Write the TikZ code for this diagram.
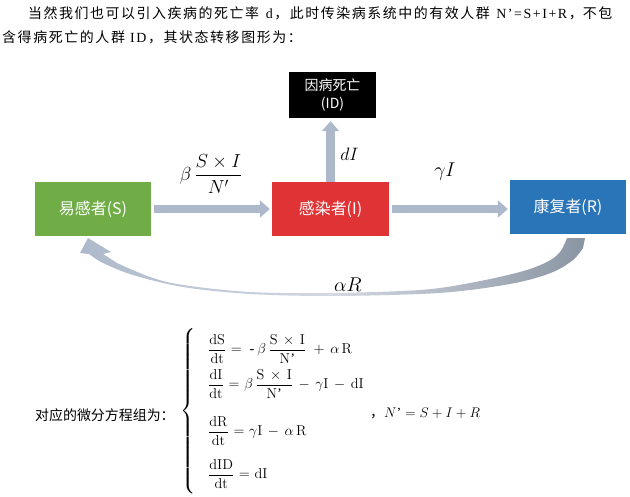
\RequirePackage{fix-cm}
\documentclass[tikz,border=0pt]{standalone}
\usepackage{amsmath}
\usepackage[no-math]{fontspec}
\setmainfont{Liberation Serif}
\newfontfamily\cjk{Noto Sans CJK SC}
\usetikzlibrary{arrows.meta,calc}
\definecolor{gS}{HTML}{70AD47}
\definecolor{rI}{HTML}{E03336}
\definecolor{bR}{HTML}{2A75B8}
\definecolor{arr}{HTML}{ADB9CA}
\definecolor{arrd}{HTML}{8A95A3}
\definecolor{arrm}{HTML}{D3D9E2}
\tikzset{
  box/.style={draw=none, inner sep=0pt, text=white, font=\cjk\fontsize{16}{19}\selectfont},
  blk/.style={draw=arr, line width=8.5bp, -{Triangle[length=10bp,width=17bp]}},
  toptxt/.style={anchor=base west, inner sep=0pt, font=\fontsize{14}{16}\selectfont},
  mlab/.style={inner sep=0pt, font=\fontsize{20}{24}\selectfont},
  eqrow/.style={anchor=west, inner sep=0pt, font=\fontsize{14.4}{17}\selectfont}
}
\newskip\lsgap
\def\ls#1{\lsA#1\relax}
\def\lsA#1{\ifx\relax#1\else#1\hskip\lsgap\expandafter\lsA\fi}
\newcommand{\eqsp}{\medmuskip=7mu plus 2mu minus 2mu\thickmuskip=6mu plus 2mu}
\begin{document}
\begin{tikzpicture}[x=1bp,y=-1bp]
\useasboundingbox (0,0) rectangle (630,497);
% top paragraph
\node[toptxt] (t1) at (28,18.5) {\lsgap=0pt plus 1fil\makebox[584bp][s]{{\cjk\ls{当然我们也可以引入疾病的死亡率}}\hskip3.5bp plus 1fil d\hskip\lsgap{\cjk\ls{，此时传染病系统中的有效人群}}\hskip3.5bp plus 1fil\ls{N’=S+I+R}{\cjk ，不\hskip\lsgap 包}}};
\node[toptxt] (t2) at (2,42.5) {\lsgap=1.6bp{\cjk\ls{含得病死亡的人群}}\hskip3.5bp I\hskip\lsgap D\hskip\lsgap{\cjk\ls{，其状态转移图形为：}}};
% boxes
\node[box, fill=gS, minimum width=116bp, minimum height=54bp] (S) at (93,209) {易感者(S)};
\node[box, fill=rI, minimum width=117bp, minimum height=54bp] (I) at (330.5,209) {感染者(I)};
\node[box, fill=bR, minimum width=116bp, minimum height=54bp] (R) at (568,207) {康复者(R)};
\node[box, fill=black, minimum width=87bp, minimum height=46bp, align=center,
      font=\cjk\fontsize{14}{18}\selectfont] (ID) at (332.5,95) {因病死亡\\(ID)};
% straight arrows
\draw[blk, shorten <=3bp, shorten >=2bp] (S.east) -- (I.west);
\draw[blk, shorten <=3bp, shorten >=2bp] (I.east) -- (I.east -| R.west);
\draw[blk, shorten >=3bp] (I.north) -- (I.north |- ID.south);
% curved return arrow R -> S
\shade[left color=arr, right color=arrd, middle color=arrm]
  (88,238) -- (111,252) -- (103,254)
  -- plot[smooth, tension=0.55] coordinates {(117,263) (150,277) (183,285) (250,292) (330,293) (420,290) (470,283) (520,272) (547,262) (560,252) (567,238)}
  -- (585,238)
  -- plot[smooth, tension=0.55] coordinates {(583,248) (573,260) (553,272) (520,282) (470,290) (420,294) (330,296) (250,294) (183,287) (133,275) (103,263) (89,254)}
  -- (80,253) -- cycle;
% labels
\node[mlab, font=\fontsize{19}{23}\selectfont] (lbeta) at (211,174) {$\beta\,\displaystyle\frac{S\times I}{N'}$};
\node[mlab] (lgamma) at (445,172) {$\gamma I$};
\node[mlab, font=\fontsize{18}{22}\selectfont] (ld) at (349.5,154) {$dI$};
\node[mlab] (lalpha) at (348,285) {$\alpha R$};
% equations
\node[toptxt] (eqlab) at (35,420) {\cjk 对应的微分方程组为：};
\node[inner sep=0pt, font=\fontsize{16}{19}\selectfont] (brace) at (189,412) {$\left\{\vrule height 80bp depth 80bp width 0bp\right.$};
\node[eqrow] (e1) at (208,349) {$\eqsp\displaystyle\frac{\mathrm{dS}}{\mathrm{dt}}=\hskip3bp\mbox{-}\hskip3bp\beta\,\frac{\mathrm{S\times I}}{\mathrm{N}\mbox{’}}\hskip2bp+\alpha\,\mathrm{R}$};
\node[eqrow] (e2) at (208,384) {$\eqsp\displaystyle\frac{\mathrm{dI}}{\mathrm{dt}}=\beta\,\frac{\mathrm{S\times I}}{\mathrm{N}\mbox{’}}-\gamma\mathrm{I}-\mathrm{dI}$};
\node[eqrow] (e3) at (208,431) {$\eqsp\displaystyle\frac{\mathrm{dR}}{\mathrm{dt}}=\gamma\mathrm{I}-\alpha\,\mathrm{R}$};
\node[eqrow] (e4) at (208,474) {$\eqsp\displaystyle\frac{\mathrm{dID}}{\mathrm{dt}}=\mathrm{dI}$};
\node[eqrow, font=\fontsize{14}{16}\selectfont] (nsum) at (370,413) {{\cjk ，}$N\mbox{’}=S+I+R$};
\end{tikzpicture}
\end{document}
